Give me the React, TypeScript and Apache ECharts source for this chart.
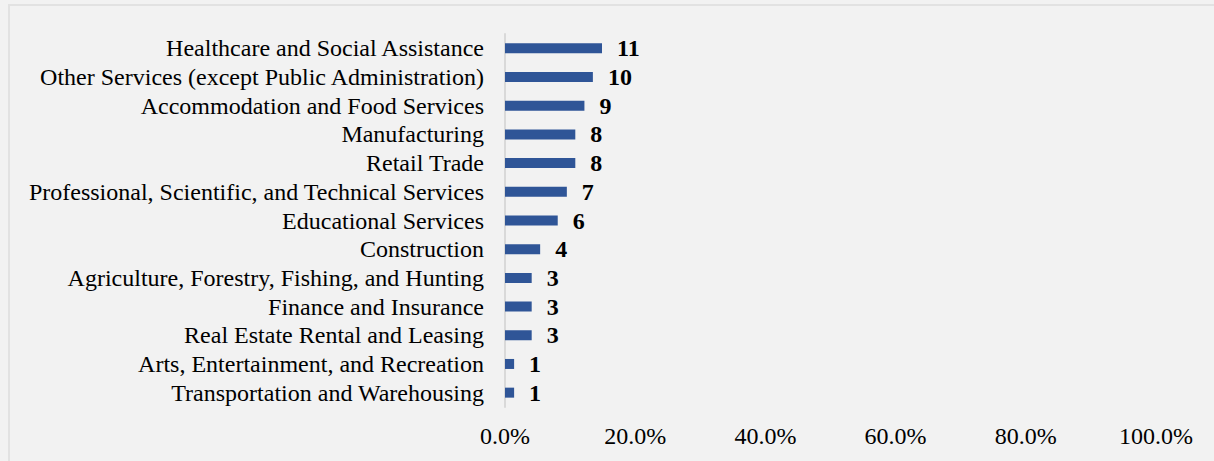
import React, { useEffect, useRef } from "react";
import * as echarts from "echarts";

const categories = [
  "Healthcare and Social Assistance",
  "Other Services (except Public Administration)",
  "Accommodation and Food Services",
  "Manufacturing",
  "Retail Trade",
  "Professional, Scientific, and Technical Services",
  "Educational Services",
  "Construction",
  "Agriculture, Forestry, Fishing, and Hunting",
  "Finance and Insurance",
  "Real Estate Rental and Leasing",
  "Arts, Entertainment, and Recreation",
  "Transportation and Warehousing",
];
const counts = [11, 10, 9, 8, 8, 7, 6, 4, 3, 3, 3, 1, 1];
const percents = [14.9, 13.5, 12.2, 10.8, 10.8, 9.5, 8.1, 5.4, 4.1, 4.1, 4.1, 1.4, 1.4];
const xTicks = { min: 0, max: 100, interval: 20 };

export default function App() {
  const ref = useRef<HTMLDivElement>(null);
  useEffect(() => {
    if (!ref.current) return;
    const chart = echarts.init(ref.current, undefined, { renderer: "svg" });
    const font = "Liberation Serif";
    chart.setOption({
      animation: false,
      backgroundColor: "#f2f2f2",
      textStyle: { fontFamily: font },
      graphic: [
        {
          type: "rect",
          shape: { x: 9, y: 5, width: 1300, height: 500 },
          style: { fill: "none", stroke: "#e2e2e2", lineWidth: 2 },
          silent: true,
        },
      ],
      grid: { left: 505, right: 58, top: 34, bottom: 54, containLabel: false },
      xAxis: {
        type: "value",
        min: xTicks.min,
        max: xTicks.max,
        interval: xTicks.interval,
        axisLine: { show: false },
        axisTick: { show: false },
        splitLine: { show: false },
        axisLabel: {
          margin: 17,
          color: "#000",
          fontFamily: font,
          fontSize: 24,
          formatter: (v: number) => v.toFixed(1) + "%",
        },
      },
      yAxis: {
        type: "category",
        inverse: true,
        data: categories,
        axisLine: { show: true, lineStyle: { color: "#d9d9d9", width: 2 } },
        axisTick: { show: false },
        axisLabel: { interval: 0, margin: 21, color: "#000", fontFamily: font, fontSize: 24 },
      },
      series: [
        {
          type: "bar",
          data: percents,
          barWidth: 10,
          itemStyle: { color: "#2f5597" },
          label: {
            show: true,
            position: "right",
            distance: 15,
            color: "#000",
            fontWeight: "bold",
            fontFamily: font,
            fontSize: 24,
            formatter: (p: any) => String(counts[p.dataIndex]),
          },
        },
      ],
    });
    return () => chart.dispose();
  }, []);
  return (
    <div
      ref={ref}
      style={{ position: "fixed", left: 0, top: 0, width: 1214, height: 461 }}
    />
  );
}
